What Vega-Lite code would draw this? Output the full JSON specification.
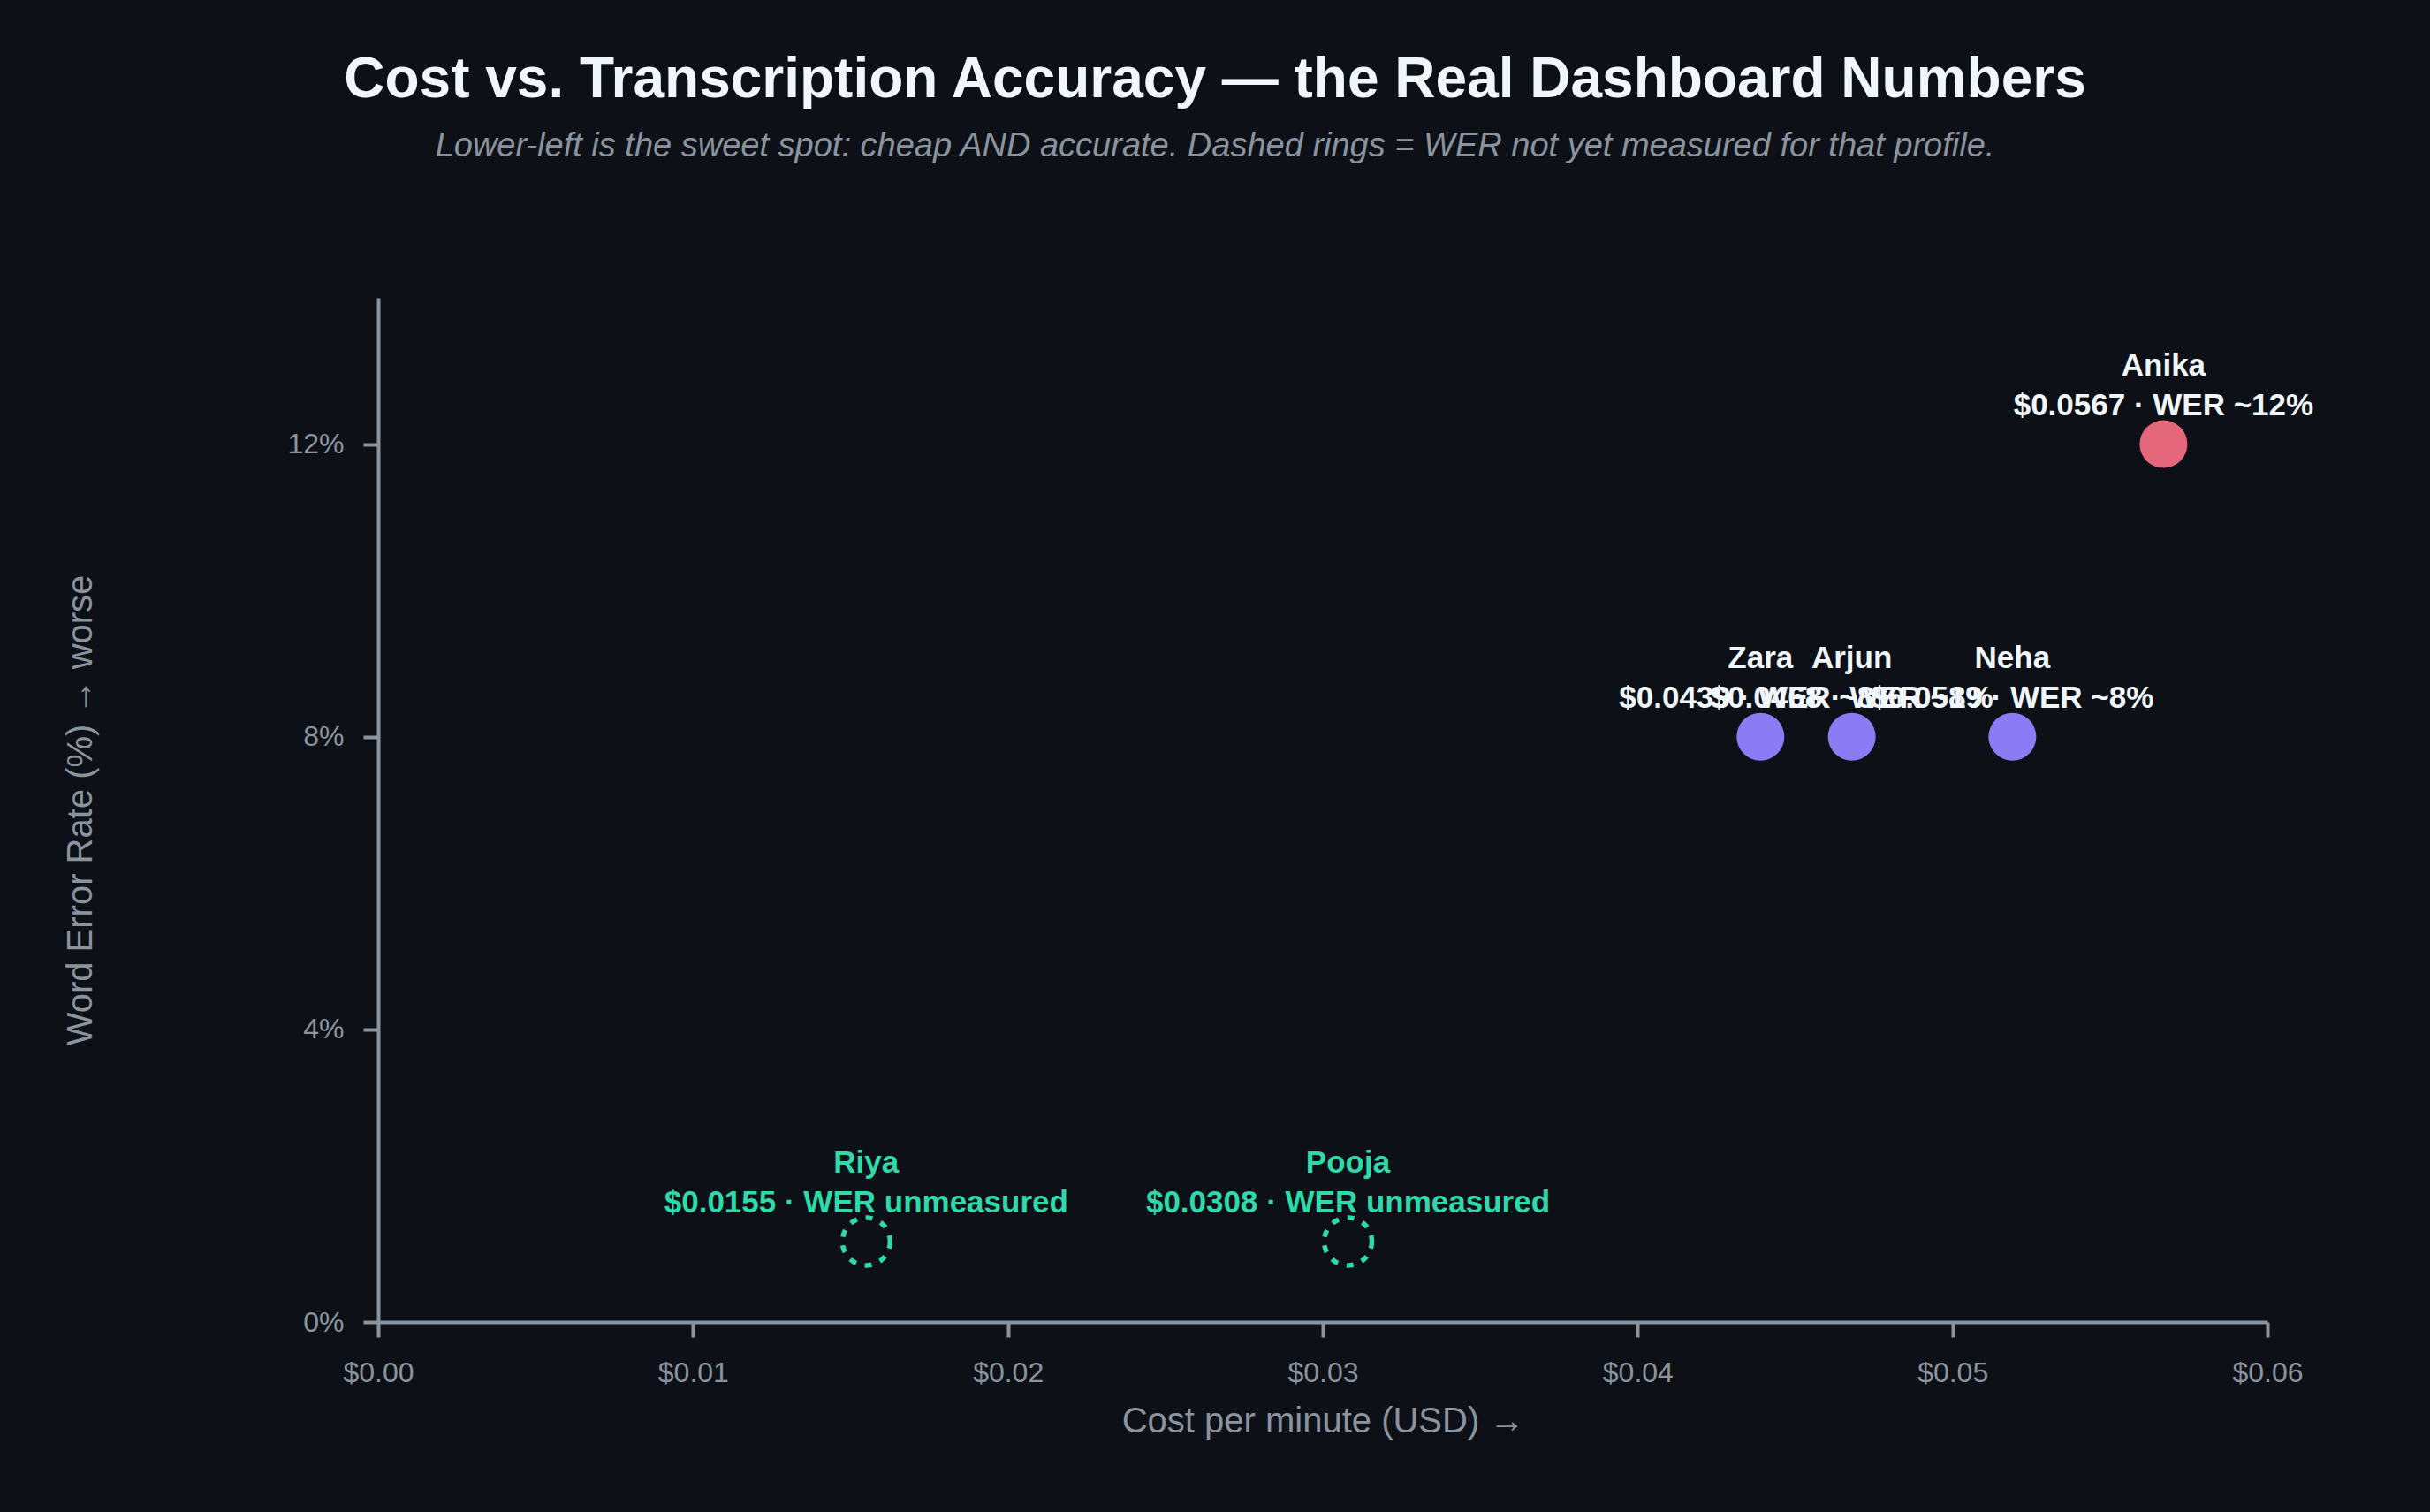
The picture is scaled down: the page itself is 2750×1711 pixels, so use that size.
{
  "$schema": "https://vega.github.io/schema/vega-lite/v6.json",
  "width": 2138,
  "height": 1159,
  "autosize": {"type": "none"},
  "padding": {"left": 428, "top": 337, "right": 184, "bottom": 215},
  "background": "#0d1117",
  "title": {
    "text": "Cost vs. Transcription Accuracy — the Real Dashboard Numbers",
    "subtitle": "Lower-left is the sweet spot: cheap AND accurate. Dashed rings = WER not yet measured for that profile.",
    "anchor": "middle",
    "frame": "group",
    "dx": -122,
    "offset": 152,
    "font": "Liberation Sans",
    "fontSize": 64,
    "fontWeight": "bold",
    "color": "#f0f6fc",
    "subtitleFont": "Liberation Sans",
    "subtitleFontSize": 38,
    "subtitleFontStyle": "italic",
    "subtitleColor": "#8b949e",
    "subtitlePadding": 24
  },
  "config": {
    "view": {"stroke": null},
    "font": "Liberation Sans",
    "axis": {
      "grid": false,
      "domainColor": "#8b949e",
      "domainWidth": 4,
      "tickColor": "#8b949e",
      "tickWidth": 4,
      "tickSize": 17,
      "labelColor": "#8b949e",
      "labelFont": "Liberation Sans",
      "labelFontSize": 32,
      "labelFlush": false,
      "titleColor": "#8b949e",
      "titleFont": "Liberation Sans",
      "titleFontSize": 40,
      "titleFontWeight": "normal"
    }
  },
  "data": {
    "values": [
      {"name": "Riya", "cost": 0.0155, "wer": 1.1, "measured": false, "tier": "unmeasured", "label": "$0.0155 · WER unmeasured"},
      {"name": "Pooja", "cost": 0.0308, "wer": 1.1, "measured": false, "tier": "unmeasured", "label": "$0.0308 · WER unmeasured"},
      {"name": "Zara", "cost": 0.0439, "wer": 8, "measured": true, "tier": "mid", "label": "$0.0439 · WER ~8%"},
      {"name": "Arjun", "cost": 0.0468, "wer": 8, "measured": true, "tier": "mid", "label": "$0.0468 · WER ~8%"},
      {"name": "Neha", "cost": 0.0519, "wer": 8, "measured": true, "tier": "mid", "label": "$0.0519 · WER ~8%"},
      {"name": "Anika", "cost": 0.0567, "wer": 12, "measured": true, "tier": "high", "label": "$0.0567 · WER ~12%"}
    ]
  },
  "encoding": {
    "x": {
      "field": "cost",
      "type": "quantitative",
      "scale": {"domain": [0, 0.06], "nice": false},
      "axis": {
        "title": "Cost per minute (USD) →",
        "values": [0, 0.01, 0.02, 0.03, 0.04, 0.05, 0.06],
        "format": "$.2f",
        "labelPadding": 25,
        "titleBaseline": "middle",
        "titleY": 112
      }
    },
    "y": {
      "field": "wer",
      "type": "quantitative",
      "scale": {"domain": [0, 14], "nice": false},
      "axis": {
        "title": "Word Error Rate (%) → worse",
        "values": [0, 4, 8, 12],
        "labelExpr": "datum.value + '%'",
        "labelPadding": 22,
        "titleBaseline": "middle",
        "titleAngle": -90,
        "titleX": -337,
        "titleY": 579.5
      }
    }
  },
  "layer": [
    {
      "transform": [{"filter": "datum.measured"}],
      "mark": {"type": "point", "shape": "circle", "filled": true, "opacity": 1, "size": 2916},
      "encoding": {
        "color": {
          "field": "tier",
          "type": "nominal",
          "scale": {"domain": ["high", "mid", "unmeasured"], "range": ["#e5677b", "#8b7cf6", "#2fd9a9"]},
          "legend": null
        }
      }
    },
    {
      "transform": [{"filter": "!datum.measured"}],
      "mark": {"type": "point", "shape": "circle", "filled": false, "opacity": 1, "size": 2916, "strokeWidth": 5.5, "strokeDash": [8, 10]},
      "encoding": {
        "color": {"field": "tier", "type": "nominal", "legend": null}
      }
    },
    {
      "mark": {"type": "text", "fontSize": 35, "fontWeight": "bold", "baseline": "middle", "align": "center", "dy": -89},
      "encoding": {
        "text": {"field": "name"},
        "color": {"condition": {"test": "datum.measured", "value": "#f0f6fc"}, "value": "#2fd9a9"}
      }
    },
    {
      "mark": {"type": "text", "fontSize": 35, "fontWeight": "bold", "baseline": "middle", "align": "center", "dy": -44},
      "encoding": {
        "text": {"field": "label"},
        "color": {"condition": {"test": "datum.measured", "value": "#f0f6fc"}, "value": "#2fd9a9"}
      }
    }
  ]
}
